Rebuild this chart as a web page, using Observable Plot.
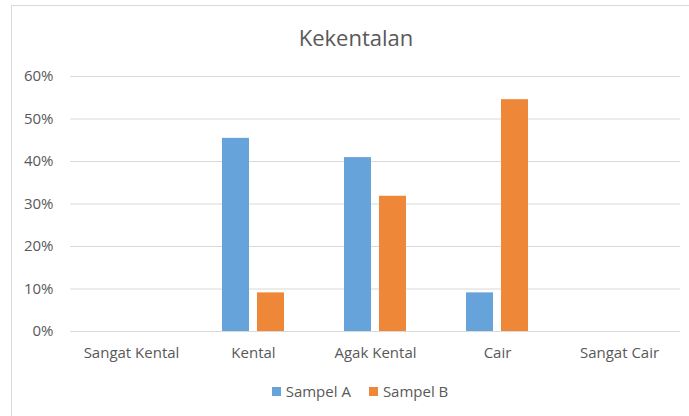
<!DOCTYPE html>
<html>
<head>
<meta charset="utf-8">
<script src="https://cdn.jsdelivr.net/npm/d3@7"></script>
<script src="https://cdn.jsdelivr.net/npm/@observablehq/plot@0.6"></script>
<style>
  html, body { margin: 0; padding: 0; background: #fff; overflow: hidden; }
  #wrap { position: relative; width: 689px; height: 416px; font-family: "Open Sans", sans-serif; color: #595959; }
  #frame { position: absolute; left: 11px; top: 5px; width: 720px; height: 440px; border: 1px solid #d9d9d9; box-sizing: border-box; }
  #title { position: absolute; left: 0; width: 712px; top: 22px; text-align: center; font-size: 22px; color: #595959; }
  #chart { position: absolute; left: 0; top: 0; }
  #legend { position: absolute; top: 381px; left: 4px; width: 712px; display: flex; justify-content: center; gap: 18px; font-size: 15px; color: #595959; }
  #legend .item { display: flex; align-items: center; gap: 5px; }
  #legend .sw { width: 9px; height: 9px; display: inline-block; }
</style>
</head>
<body>
<div id="wrap">
  <div id="frame"></div>
  <div id="chart"></div>
  <div id="title">Kekentalan</div>
  <div id="legend"></div>
</div>
<script>
const categories = ["Sangat Kental", "Kental", "Agak Kental", "Cair", "Sangat Cair"];
const seriesNames = ["Sampel A", "Sampel B"];
const sampelA = [0, 0.4545, 0.4091, 0.0909, 0];
const sampelB = [0, 0.0909, 0.3182, 0.5455, 0];
const colors = ["#65a3da", "#ef8738"];
const yTicks = [0, 0.1, 0.2, 0.3, 0.4, 0.5, 0.6];

const data = [];
categories.forEach((c, i) => {
  data.push({category: c, series: seriesNames[0], value: sampelA[i]});
  data.push({category: c, series: seriesNames[1], value: sampelB[i]});
});

const plot = Plot.plot({
  width: 689,
  height: 370,
  marginLeft: 70,
  marginRight: 9,
  marginTop: 76,
  marginBottom: 39,
  style: {fontFamily: "'Open Sans', sans-serif", fontSize: "15px", color: "#595959", background: "transparent"},
  fx: {domain: categories, padding: 0, label: null, axis: null},
  x: {domain: seriesNames, paddingInner: 0.23, paddingOuter: 0.857, axis: null},
  y: {domain: [0, 0.6], ticks: yTicks, tickFormat: d3.format(".0%"), label: null, axis: null},
  color: {domain: seriesNames, range: colors},
  marks: [
    Plot.gridY(yTicks, {stroke: "#d9d9d9", strokeOpacity: 1, strokeWidth: 1}),
    Plot.barY(data, {fx: "category", x: "series", y: "value", fill: "series"}),
    Plot.axisY({ticks: yTicks, tickFormat: d3.format(".0%"), tickSize: 0, tickPadding: 17, label: null, fill: "#595959"}),
    Plot.axisFx({anchor: "bottom", tickSize: 0, tickPadding: 16, label: null, fill: "#595959"})
  ]
});
document.getElementById("chart").appendChild(plot);

const legend = document.getElementById("legend");
seriesNames.forEach((s, i) => {
  const item = document.createElement("span");
  item.className = "item";
  const sw = document.createElement("span");
  sw.className = "sw";
  sw.style.background = colors[i];
  const t = document.createElement("span");
  t.textContent = s;
  item.appendChild(sw);
  item.appendChild(t);
  legend.appendChild(item);
});
</script>
</body>
</html>
